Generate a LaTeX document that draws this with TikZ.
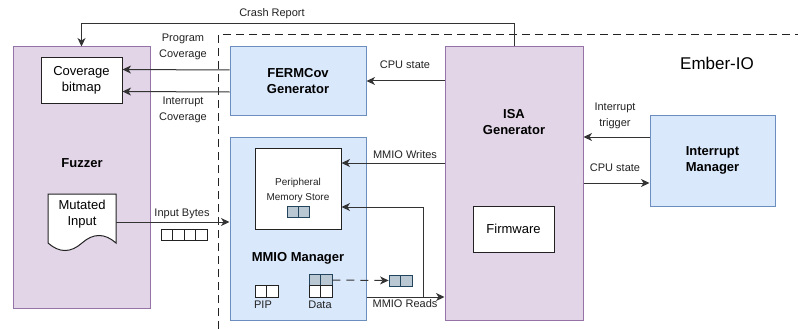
\documentclass[tikz,border=0pt]{standalone}
\usepackage{fontspec}
\setmainfont{Liberation Sans}
\usetikzlibrary{arrows.meta}
\definecolor{purpfill}{HTML}{E1D5E7}
\definecolor{purpline}{HTML}{9673A6}
\definecolor{bluefill}{HTML}{DAE8FC}
\definecolor{blueline}{HTML}{6C8EBF}
\definecolor{cellfill}{HTML}{BAC8D3}
\definecolor{celline}{HTML}{23445D}
\definecolor{darkline}{HTML}{222222}
\definecolor{linecol}{HTML}{333333}
\definecolor{labeltext}{HTML}{222222}
\begin{document}
\begin{tikzpicture}[x=1pt,y=-1pt,
  font=\fontsize{11}{14}\selectfont,
  purpbox/.style={draw=purpline, fill=purpfill, line width=1pt, inner sep=0pt},
  bluebox/.style={draw=blueline, fill=bluefill, line width=1pt, inner sep=0pt},
  whitebox/.style={draw=darkline, fill=white, line width=1pt, inner sep=0pt,
    align=center, font=\fontsize{13}{16}\selectfont},
  title/.style={font=\bfseries\fontsize{13}{16}\selectfont, align=center, text=black},
  lbl/.style={font=\fontsize{11}{15.5}\selectfont, align=center, text=labeltext, inner sep=0pt},
  arr/.style={draw=linecol, line width=1pt, -{Stealth[length=8.5pt,width=8pt,inset=2.5pt]}},
  cell/.style={draw=darkline, fill=white, line width=0.8pt, minimum width=11.5pt,
    minimum height=11.5pt, inner sep=0pt},
  gcell/.style={cell, draw=celline, fill=cellfill},
]
\useasboundingbox (0,0) rectangle (798,329);

% Ember-IO boundary
\draw[darkline, line width=1pt, dash pattern=on 8pt off 5pt] (218,329) -- (218,35) -- (798,35);
\node[font=\fontsize{17}{20}\selectfont] (ember) at (717,63) {Ember-IO};

% Fuzzer side
\node[purpbox, minimum width=137pt, minimum height=261pt] (fuzz) at (81.5,177.5) {};
\node[title] (fuzzlbl) at (82,163) {Fuzzer};
\node[whitebox, minimum width=81pt, minimum height=45pt] (cov) at (81.5,80.5) {Coverage\\bitmap};
\draw[darkline, fill=white, line width=1pt]
  (48,243) -- (48,194) -- (116,194) -- (116,243)
  .. controls (104.67,233) and (93.33,233) .. (82,243)
  .. controls (70.67,253) and (59.33,253) .. (48,243) -- cycle;
\node[inner sep=0pt, minimum width=68pt, minimum height=49pt, align=center,
  font=\fontsize{13}{16}\selectfont] (doc) at (82,214) {Mutated\\Input};

% Emulator side
\node[bluebox, minimum width=136pt, minimum height=68pt, title] (ferm) at (298,81) {FERMCov\\Generator};
\node[bluebox, minimum width=136pt, minimum height=183pt] (mmio) at (298,228.5) {};
\node[title] (mmiolbl) at (298,258) {MMIO Manager};
\node[whitebox, minimum width=86pt, minimum height=81pt] (pms) at (298,188.5) {};
\node[lbl, font=\fontsize{10}{15}\selectfont] (pmslbl) at (298,190) {Peripheral\\Memory Store};
\node[purpbox, minimum width=138pt, minimum height=273pt] (isa) at (514,183.5) {};
\node[title] (isalbl) at (514,122) {ISA\\Generator};
\node[whitebox, minimum width=81pt, minimum height=46pt] (fw) at (513.5,229) {Firmware};
\node[bluebox, minimum width=125pt, minimum height=91pt, title] (im) at (712.5,160.5) {Interrupt\\Manager};

% byte arrays
\foreach \i/\x in {1/166.75, 2/178.25, 3/189.75, 4/201.25}
  \node[cell] (ib\i) at (\x,235) {};
\node[gcell, minimum width=11pt, minimum height=11pt] (pm1) at (292.5,211.5) {};
\node[gcell, minimum width=11pt, minimum height=11pt] (pm2) at (303.5,211.5) {};
\node[cell] (pip1) at (260.75,291.5) {};
\node[cell] (pip2) at (272.25,291.5) {};
\node[gcell] (d11) at (314.75,280) {};
\node[gcell] (d12) at (326.25,280) {};
\node[cell] (d21) at (314.75,291.5) {};
\node[cell] (d22) at (326.25,291.5) {};
\node[gcell, minimum height=11pt] (o1) at (394.75,280.5) {};
\node[gcell, minimum height=11pt] (o2) at (406.25,280.5) {};
\node[lbl] (piplbl) at (263,305) {PIP};
\node[lbl] (datalbl) at (320,305) {Data};

% connectors
\draw[arr] (isa.north) -- ++(0,-23) -| (fuzz.north);
\node[lbl] (crashlbl) at (272,14) {Crash Report};

\draw[arr] ([yshift=11pt]ferm.west) -- ([yshift=11pt]cov.east);
\draw[arr] ([yshift=-11pt]ferm.west) -- ([yshift=-11pt]cov.east);
\node[lbl] (pclbl) at (183,47) {Program\\Coverage};
\node[lbl] (iclbl) at (183,110) {Interrupt\\Coverage};

\draw[arr] (isa.west |- ferm.east) -- (ferm.east);
\node[lbl] (cpulbl) at (405,65) {CPU state};

\draw[arr] (isa.west |- 0,163) -- (pms.east |- 0,163);
\node[lbl] (mwlbl) at (405,155) {MMIO Writes};

\coordinate (rj) at (423,297);
\draw[arr] (mmio.east |- rj) -- (isa.west |- rj);
\draw[arr] (rj) -- (rj |- 0,207) -- (pms.east |- 0,207);
\node[lbl] (mrlbl) at (405,304) {MMIO Reads};

\draw[arr] (doc.east |- 0,222) -- (mmio.west |- 0,222);
\node[lbl] (iblbl) at (182,214) {Input Bytes};

\draw[arr, dash pattern=on 8pt off 6pt] (d12.east) -- (o1.west);

\draw[arr] (im.west |- 0,137) -- (isa.east |- 0,137);
\node[lbl] (itlbl) at (615,116) {Interrupt\\trigger};
\draw[arr] (isa.east |- 0,183) -- (im.west |- 0,183);
\node[lbl] (cpu2lbl) at (615,168) {CPU state};
\end{tikzpicture}
\end{document}
